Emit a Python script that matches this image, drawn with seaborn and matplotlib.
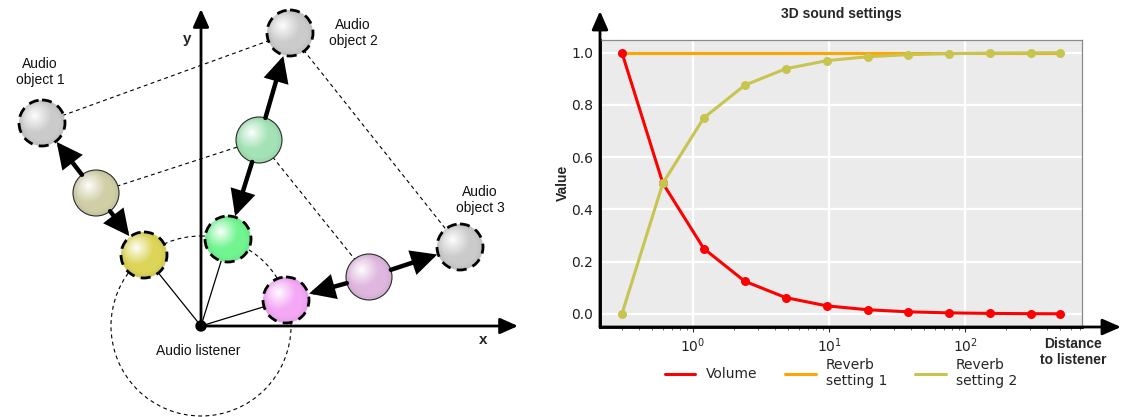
import numpy as np
import matplotlib
matplotlib.use("Agg")
import matplotlib.pyplot as plt
import seaborn as sns
from matplotlib.patches import Circle, FancyArrowPatch, ArrowStyle
from matplotlib.lines import Line2D
import matplotlib.colors as mcolors

# ---------------- chart data ----------------
distance = [0.3, 0.6, 1.2, 2.4, 4.8, 9.6, 19.2, 38.4, 76.8, 153.6, 307.2, 500.0]
volume = [1.0, 0.5, 0.25, 0.125, 0.0625, 0.031, 0.016, 0.008, 0.004, 0.002, 0.001, 0.0006]
reverb_1 = [1.0, 1.0, 1.0, 1.0, 1.0, 1.0, 1.0, 1.0, 1.0, 1.0, 1.0, 1.0]
reverb_2 = [0.0, 0.5, 0.75, 0.875, 0.938, 0.969, 0.984, 0.992, 0.996, 0.998, 0.999, 0.9994]
series_labels = ["Volume", "Reverb\nsetting 1", "Reverb\nsetting 2"]
series_colors = ["#ff0000", "#ffa500", "#c8c450"]
x_ticks = [1, 10, 100]
y_ticks = [0.0, 0.2, 0.4, 0.6, 0.8, 1.0]
chart_title = "3D sound settings"
y_label = "Value"
x_label = "Distance\nto listener"

# ---------------- diagram data ----------------
sphere_x = [42, 96, 144, 290, 259, 228, 460, 369, 286]
sphere_y = [123, 193, 255, 33, 140, 239, 247, 277, 300]
sphere_color = ["#cbcbcb", "#d1cfa7", "#dcd558", "#cbcbcb", "#a3e3b5",
                "#72f590", "#cbcbcb", "#dfb7df", "#f4a8f6"]
sphere_dashed = [True, False, True, True, False, True, True, False, True]
arrow_pairs = [(1, 0), (1, 2), (4, 3), (4, 5), (7, 6), (7, 8)]
dashed_pairs = [(0, 3), (1, 4), (4, 7), (3, 6)]
listener_links = [2, 5, 8]
listener_xy = (201, 326)
diagram_texts = ["Audio\nobject 1", "Audio\nobject 2", "Audio\nobject 3", "Audio listener"]
diagram_text_xy = [(40, 72), (353, 33), (480, 200), (198, 351)]

sns.set_theme(style="darkgrid")
plt.rcParams['font.family'] = ['DejaVu Sans']

W, H = 1123, 417
fig = plt.figure(figsize=(W / 100, H / 100), dpi=100)

# ================= left diagram =================
ax0 = fig.add_axes([0, 0, 540 / W, 1])
ax0.axis('off')
R = 23

def edge_point(a, b, r):
    ax_, ay_ = a
    bx_, by_ = b
    d = np.hypot(bx_ - ax_, by_ - ay_)
    return (ax_ + (bx_ - ax_) * r / d, ay_ + (by_ - ay_) * r / d)

thin_dash = (0, (3.5, 3))
# connecting dashed lines
for i, j in dashed_pairs:
    ax0.plot([sphere_x[i], sphere_x[j]], [sphere_y[i], sphere_y[j]], color='black',
             lw=0.8, ls=thin_dash, zorder=1)
# big dashed circle around listener
ax0.add_patch(Circle(listener_xy, 90, fill=False, ec='black', lw=0.8, ls=thin_dash, zorder=1))
# thin solid lines listener -> spheres
for k in listener_links:
    ax0.plot([listener_xy[0], sphere_x[k]], [listener_xy[1], sphere_y[k]], color='black',
             lw=0.9, zorder=1.5)

# axes arrows
ax0.add_patch(FancyArrowPatch(listener_xy, (201, 9), arrowstyle=ArrowStyle('-|>', head_length=0.9, head_width=0.4),
                              mutation_scale=12, lw=2, color='black', shrinkA=0, shrinkB=0, zorder=2))
ax0.add_patch(FancyArrowPatch(listener_xy, (518, 326), arrowstyle=ArrowStyle('-|>', head_length=0.9, head_width=0.4),
                              mutation_scale=12, lw=2, color='black', shrinkA=0, shrinkB=0, zorder=2))

# spheres with radial shading
n = 90
g = np.linspace(-1, 1, n)
GX, GY = np.meshgrid(g, g)
for x, y, c, dashed in zip(sphere_x, sphere_y, sphere_color, sphere_dashed):
    base = np.array(mcolors.to_rgb(c))
    d = np.hypot(GX + 0.32, GY + 0.32)
    f = np.clip(d / 0.75, 0, 1) ** 0.9
    rim = np.clip((np.hypot(GX, GY) - 0.75) / 0.25, 0, 1)
    rgb = (1 - f)[..., None] * np.ones(3) + f[..., None] * base
    rgb = rgb * (1 - 0.06 * rim[..., None])
    im = ax0.imshow(rgb, extent=(x - R, x + R, y + R, y - R), origin='upper',
                    interpolation='bilinear', zorder=3, aspect='auto')
    clip = Circle((x, y), R, transform=ax0.transData)
    im.set_clip_path(clip)
    if dashed:
        ax0.add_patch(Circle((x, y), R, fill=False, ec='black', lw=2.0,
                             ls=(0, (3.6, 2.3)), zorder=3.5))
    else:
        ax0.add_patch(Circle((x, y), R, fill=False, ec='#2a2a2a', lw=0.8, zorder=3.5))

# thick arrows between spheres
for i, j in arrow_pairs:
    a = (sphere_x[i], sphere_y[i])
    b = (sphere_x[j], sphere_y[j])
    p0 = edge_point(a, b, R)
    p1 = edge_point(b, a, R + 1)
    ax0.add_patch(FancyArrowPatch(p0, p1, arrowstyle=ArrowStyle('-|>', head_length=0.85, head_width=0.42),
                                  mutation_scale=16, lw=3.2, color='black', shrinkA=0, shrinkB=0,
                                  joinstyle='miter', zorder=4))

# listener dot
ax0.add_patch(Circle(listener_xy, 5, color='black', zorder=5))

for t, (tx, ty) in zip(diagram_texts, diagram_text_xy):
    ax0.text(tx, ty, t, ha='center', va='center', fontsize=10, family='Liberation Sans',
             color='#111111', linespacing=1.1, zorder=6)
ax0.text(187, 39, 'y', ha='center', va='center', fontsize=11, fontweight='bold',
         family='Liberation Sans', zorder=6)
ax0.text(483, 340, 'x', ha='center', va='center', fontsize=11, fontweight='bold',
         family='Liberation Sans', zorder=6)
ax0.set_xlim(0, 540)
ax0.set_ylim(H, 0)

# ================= right chart =================
left, right, top, bottom = 600, 1082, 39.5, 327
ax = fig.add_axes([left / W, 1 - bottom / H, (right - left) / W, (bottom - top) / H])
ax.set_xscale('log')
ax.set_facecolor('#ebebeb')

sns.lineplot(x=distance, y=reverb_1, color=series_colors[1], lw=2.2, ax=ax, zorder=2)
sns.lineplot(x=distance, y=volume, color=series_colors[0], lw=2.2, marker='o', markersize=6.5,
             markeredgewidth=0, ax=ax, zorder=3)
sns.lineplot(x=distance, y=reverb_2, color=series_colors[2], lw=2.2, marker='o', markersize=6.5,
             markeredgewidth=0, ax=ax, zorder=4)

ax.margins(x=0.05, y=0.05)
ax.set_xticks(x_ticks)
ax.set_yticks(y_ticks)
ax.grid(True, which='major', color='white', lw=1.6)
ax.grid(False, which='minor')
ax.set_axisbelow(True)
ax.tick_params(axis='x', which='major', bottom=True, length=3.5, width=0.8, color='#333333',
               labelsize=10, pad=3, labelcolor='#222222')
ax.tick_params(axis='x', which='minor', bottom=True, length=2.2, width=0.6, color='#555555')
ax.tick_params(axis='y', which='both', left=False, length=0, labelsize=10, pad=5, labelcolor='#222222')

for s in ['left', 'bottom']:
    ax.spines[s].set_visible(True)
    ax.spines[s].set_color('black')
    ax.spines[s].set_linewidth(2)
for s in ['top', 'right']:
    ax.spines[s].set_visible(True)
    ax.spines[s].set_color('#8a8a8a')
    ax.spines[s].set_linewidth(0.9)

# axis arrows
ytip = (bottom - 11) / (bottom - top)
xtip = (1121 - left) / (right - left)
ax.annotate('', xy=(0, ytip), xytext=(0, 0), xycoords='axes fraction',
            arrowprops=dict(arrowstyle=ArrowStyle('-|>', head_length=0.8, head_width=0.35),
                            mutation_scale=14, lw=2, color='black', shrinkA=0, shrinkB=0),
            annotation_clip=False)
ax.annotate('', xy=(xtip, 0), xytext=(0, 0), xycoords='axes fraction',
            arrowprops=dict(arrowstyle=ArrowStyle('-|>', head_length=0.8, head_width=0.35),
                            mutation_scale=14, lw=2, color='black', shrinkA=0, shrinkB=0),
            annotation_clip=False)

ax.set_xlabel('')
ax.set_ylabel('')
ax.text(0.5, (bottom - 14) / (bottom - top), chart_title, transform=ax.transAxes, ha='center',
        va='center', fontsize=10, fontweight='bold', family='Liberation Sans')
ax.text((563 - left) / (right - left), 0.5, y_label, transform=ax.transAxes, ha='center',
        va='center', rotation=90, fontsize=10, fontweight='bold', family='Liberation Sans')
ax.text((1073 - left) / (right - left), (bottom - 352) / (bottom - top), x_label,
        transform=ax.transAxes, ha='center', va='center', fontsize=10, fontweight='bold',
        family='Liberation Sans', linespacing=1.15)

handles = [Line2D([], [], color=c, lw=2.2) for c in series_colors]
ax.legend(handles, series_labels, loc='center', bbox_to_anchor=(0.5, (bottom - 373) / (bottom - top)),
          ncol=3, frameon=False, fontsize=10, handlelength=2.2, handletextpad=0.75,
          columnspacing=2.0)

fig.savefig('out.png', dpi=100)
